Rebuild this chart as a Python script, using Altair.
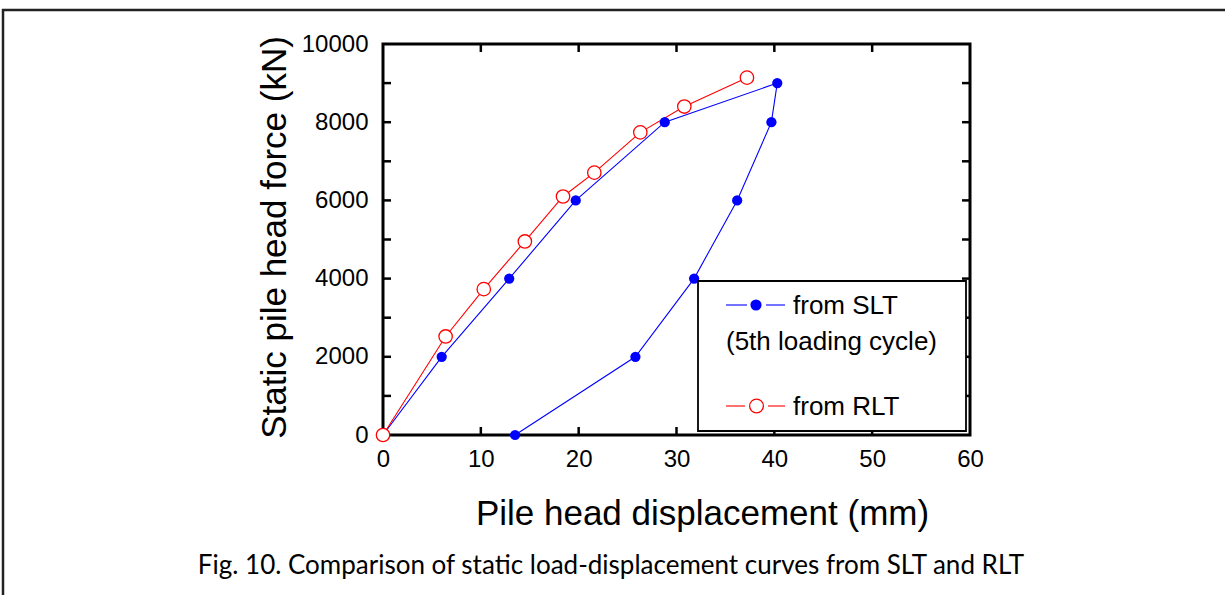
import altair as alt
import pandas as pd

# ---- data ----
slt_x = [0, 6.0, 12.9, 19.7, 28.8, 40.3, 39.7, 36.2, 31.8, 25.8, 13.5]
slt_y = [0, 2000, 4000, 6000, 8000, 9000, 8000, 6000, 4000, 2000, 0]
rlt_x = [0, 6.4, 10.3, 14.5, 18.4, 21.6, 26.3, 30.8, 37.2]
rlt_y = [0, 2520, 3730, 4950, 6100, 6710, 7740, 8400, 9140]

x_ticks = [0, 10, 20, 30, 40, 50, 60]
y_ticks = [0, 2000, 4000, 6000, 8000, 10000]
x_inner_ticks = [10, 20, 30, 40, 50]
y_inner_ticks = [1000, 2000, 3000, 4000, 5000, 6000, 7000, 8000, 9000]

x_title = "Pile head displacement (mm)"
y_title = "Static pile head force (kN)"
caption = "Fig. 10. Comparison of static load-displacement curves from SLT and RLT"
legend_labels = ["from SLT", "(5th loading cycle)", "from RLT"]

W, H = 587, 391
FONT = "Liberation Sans"

slt = pd.DataFrame({"x": slt_x, "y": slt_y, "i": list(range(len(slt_x)))})
rlt = pd.DataFrame({"x": rlt_x, "y": rlt_y, "i": list(range(len(rlt_x)))})

xs = alt.Scale(domain=[0, 60], nice=False, zero=False)
ys = alt.Scale(domain=[0, 10000], nice=False, zero=False)

xax = alt.Axis(values=x_ticks, format="d", ticks=False, domain=False, grid=False,
               labelFont=FONT, labelFontSize=24, labelColor="black", labelPadding=12,
               labelFlush=False,
               title=x_title, titleFont=FONT, titleFontSize=35, titleFontWeight="normal",
               titleColor="black", titleX=319, titleY=78, titleAlign="center",
               titleBaseline="middle")
yax = alt.Axis(values=y_ticks, format="d", ticks=False, domain=False, grid=False,
               labelFont=FONT, labelFontSize=24, labelColor="black", labelPadding=15,
               labelFlush=False,
               title=y_title, titleFont=FONT, titleFontSize=35, titleFontWeight="normal",
               titleColor="black", titleX=-109, titleY=193, titleAlign="center",
               titleBaseline="middle", titleAngle=270)

# outer figure border (decoration)
border = alt.Chart(pd.DataFrame({"a": [0]})).mark_rect(
    fill=None, stroke="#222222", strokeWidth=2.5).encode(
    x=alt.value(-380), x2=alt.value(900), y=alt.value(-34), y2=alt.value(600))

blue_line = alt.Chart(slt).mark_line(color="#0000FF", strokeWidth=1.1).encode(
    x=alt.X("x:Q", scale=xs, axis=xax), y=alt.Y("y:Q", scale=ys, axis=yax), order="i:Q")
blue_pts = alt.Chart(slt).mark_point(filled=True, color="#0000FF", size=105, opacity=1,
                                     shape="circle").encode(
    x=alt.X("x:Q", scale=xs), y=alt.Y("y:Q", scale=ys))
red_line = alt.Chart(rlt).mark_line(color="#FF0000", strokeWidth=1.1).encode(
    x=alt.X("x:Q", scale=xs), y=alt.Y("y:Q", scale=ys), order="i:Q")
red_pts = alt.Chart(rlt).mark_point(filled=True, fill="white", stroke="#FF0000",
                                    strokeWidth=1.3, size=180, opacity=1,
                                    shape="circle").encode(
    x=alt.X("x:Q", scale=xs), y=alt.Y("y:Q", scale=ys))

# inward ticks on all four sides
xt = pd.DataFrame({"v": x_inner_ticks})
yt = pd.DataFrame({"v": y_inner_ticks})
tick_style = dict(color="black", strokeWidth=2.5)
bottom_ticks = alt.Chart(xt).mark_rule(**tick_style).encode(
    x=alt.X("v:Q", scale=xs), y=alt.value(H), y2=alt.value(H - 8))
top_ticks = alt.Chart(xt).mark_rule(**tick_style).encode(
    x=alt.X("v:Q", scale=xs), y=alt.value(0), y2=alt.value(8))
left_ticks = alt.Chart(yt).mark_rule(**tick_style).encode(
    y=alt.Y("v:Q", scale=ys), x=alt.value(0), x2=alt.value(8))
right_ticks = alt.Chart(yt).mark_rule(**tick_style).encode(
    y=alt.Y("v:Q", scale=ys), x=alt.value(W), x2=alt.value(W - 8))

# hand-drawn legend box
one = pd.DataFrame({"a": [0]})
leg_box = alt.Chart(one).mark_rect(fill="white", stroke="black", strokeWidth=1.8).encode(
    x=alt.value(315), x2=alt.value(583), y=alt.value(237), y2=alt.value(387))
blue_c = "#0000FF"
red_c = "#FF0000"
leg_b1 = alt.Chart(one).mark_rule(color=blue_c, strokeWidth=1.1).encode(
    x=alt.value(343), x2=alt.value(364), y=alt.value(261))
leg_b2 = alt.Chart(one).mark_rule(color=blue_c, strokeWidth=1.1).encode(
    x=alt.value(383), x2=alt.value(402), y=alt.value(261))
leg_blue_pt = alt.Chart(one).mark_point(filled=True, color=blue_c, size=125, opacity=1,
                                        shape="circle").encode(
    x=alt.value(373), y=alt.value(261))
leg_r1 = alt.Chart(one).mark_rule(color=red_c, strokeWidth=1.1).encode(
    x=alt.value(343), x2=alt.value(362), y=alt.value(362))
leg_r2 = alt.Chart(one).mark_rule(color=red_c, strokeWidth=1.1).encode(
    x=alt.value(385), x2=alt.value(402), y=alt.value(362))
leg_red_pt = alt.Chart(one).mark_point(filled=True, fill="white", stroke=red_c,
                                       strokeWidth=1.3, size=190, opacity=1,
                                       shape="circle").encode(
    x=alt.value(373.5), y=alt.value(362))
txt = dict(font=FONT, fontSize=26, color="black", align="left", baseline="middle")
leg_t1 = alt.Chart(one).mark_text(**txt).encode(
    x=alt.value(410), y=alt.value(262), text=alt.value(legend_labels[0]))
leg_t2 = alt.Chart(one).mark_text(**txt).encode(
    x=alt.value(343), y=alt.value(298), text=alt.value(legend_labels[1]))
leg_t3 = alt.Chart(one).mark_text(**txt).encode(
    x=alt.value(410), y=alt.value(363), text=alt.value(legend_labels[2]))

cap = alt.Chart(one).mark_text(font="Lato", fontSize=26, color="black", align="center",
                               baseline="alphabetic").encode(
    x=alt.value(228), y=alt.value(530), text=alt.value(caption))

chart = alt.layer(
    border, blue_line, red_line, blue_pts, red_pts,
    bottom_ticks, top_ticks, left_ticks, right_ticks,
    leg_box, leg_b1, leg_b2, leg_blue_pt, leg_r1, leg_r2, leg_red_pt,
    leg_t1, leg_t2, leg_t3,
    cap,
).properties(
    width=W, height=H,
    autosize=alt.AutoSizeParams(type="none"),
    padding={"left": 383, "top": 44, "right": 255, "bottom": 160},
    background="white",
).configure_view(stroke="black", strokeWidth=3)

chart.save("out.html", embed_options={"renderer": "svg", "actions": False})
